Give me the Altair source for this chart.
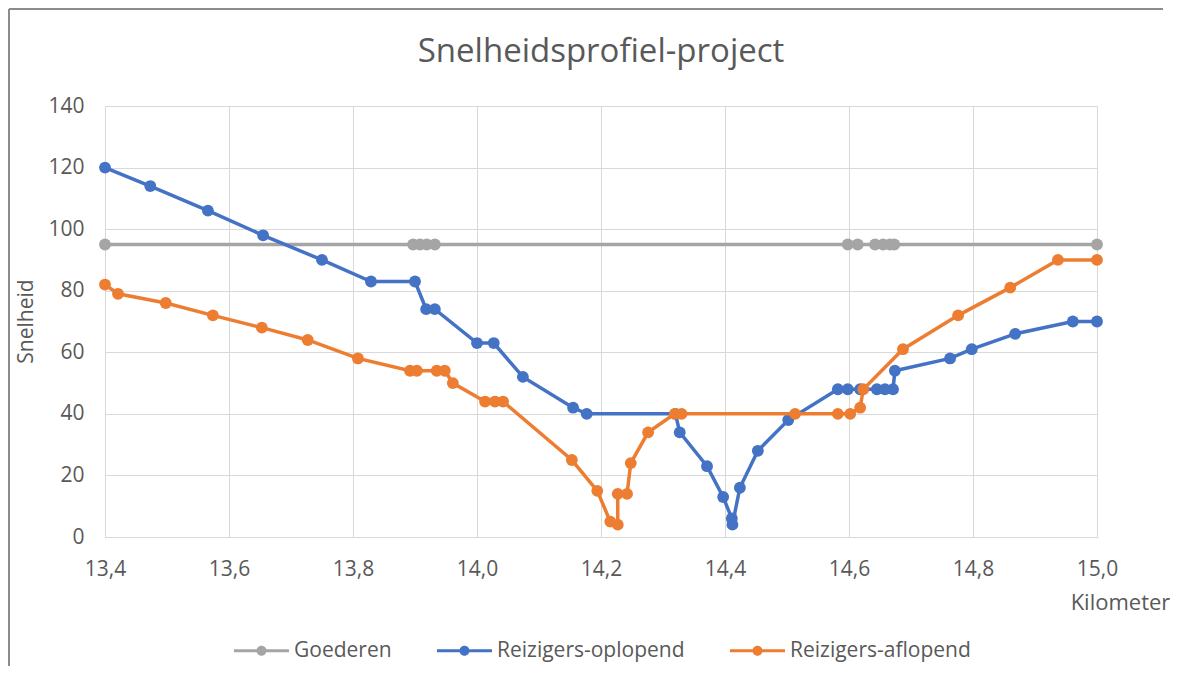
import altair as alt
import pandas as pd

# ---- data ----
series_names = ["Goederen", "Reizigers-oplopend", "Reizigers-aflopend"]
series_colors = ["#A5A5A5", "#4472C4", "#ED7D31"]

km_goederen = [13.400, 13.897, 13.908, 13.919, 13.932, 14.598, 14.614, 14.642,
               14.655, 14.666, 14.673, 15.000]
v_goederen = [95, 95, 95, 95, 95, 95, 95, 95, 95, 95, 95, 95]

km_oplopend = [13.400, 13.473, 13.566, 13.655, 13.750, 13.829, 13.900, 13.918,
               13.932, 14.000, 14.027, 14.074, 14.155, 14.177, 14.320, 14.327,
               14.371, 14.397, 14.411, 14.412, 14.424, 14.453, 14.502, 14.582,
               14.598, 14.618, 14.645, 14.658, 14.671, 14.674, 14.763, 14.798,
               14.868, 14.961, 15.000]
v_oplopend = [120, 114, 106, 98, 90, 83, 83, 74, 74, 63, 63, 52, 42, 40, 40, 34,
              23, 13, 6, 4, 16, 28, 38, 48, 48, 48, 48, 48, 48, 54, 58, 61, 66,
              70, 70]

km_aflopend = [13.400, 13.421, 13.498, 13.574, 13.653, 13.727, 13.808, 13.892,
               13.903, 13.935, 13.948, 13.961, 14.013, 14.029, 14.042, 14.153,
               14.194, 14.215, 14.227, 14.227, 14.242, 14.248, 14.276, 14.319,
               14.330, 14.513, 14.582, 14.602, 14.618, 14.623, 14.687, 14.776,
               14.860, 14.937, 15.000]
v_aflopend = [82, 79, 76, 72, 68, 64, 58, 54, 54, 54, 54, 50, 44, 44, 44, 25, 15,
              5, 4, 14, 14, 24, 34, 40, 40, 40, 40, 40, 42, 48, 61, 72, 81, 90, 90]

x_ticks = [13.4, 13.6, 13.8, 14.0, 14.2, 14.4, 14.6, 14.8, 15.0]
y_ticks = [0, 20, 40, 60, 80, 100, 120, 140]

# ---- build table ----
rows = []
for name, kms, vs in [
    (series_names[0], km_goederen, v_goederen),
    (series_names[1], km_oplopend, v_oplopend),
    (series_names[2], km_aflopend, v_aflopend),
]:
    for i, (k, v) in enumerate(zip(kms, vs)):
        rows.append({"serie": name, "km": k, "snelheid": v, "idx": i})
df = pd.DataFrame(rows)

FONT = "Open Sans"
TXT = "#595959"
GRID = "#D9D9D9"

legend_path = ("M-2.75,-0.15H2.75V0.15H-2.75Z "
               "M0.5,0A0.5,0.5,0,1,1,-0.5,0A0.5,0.5,0,1,1,0.5,0Z")

color = alt.Color(
    "serie:N",
    scale=alt.Scale(domain=series_names, range=series_colors),
    sort=series_names,
    legend=alt.Legend(
        title=None,
        orient="none",
        direction="horizontal",
        legendX=146,
        legendY=534,
        padding=0,
        symbolType=legend_path,
        symbolSize=400,
        symbolStrokeWidth=0,
        symbolOpacity=1,
        labelOffset=22,
        columnPadding=45,
        labelLimit=400,
        labelFont=FONT,
        labelFontSize=21,
        labelColor=TXT,
    ),
)

x = alt.X(
    "km:Q",
    scale=alt.Scale(domain=[13.4, 15.0], nice=False, zero=False),
    axis=alt.Axis(
        values=x_ticks,
        labelExpr="replace(format(datum.value, '.1f'), '.', ',')",
        title="Kilometer",
        titleFont=FONT,
        titleFontSize=22,
        titleFontWeight="normal",
        titleColor=TXT,
        titleAnchor="end",
        titleAlign="center",
        titleBaseline="middle",
        titleX=1015,
        titleY=65,
        labelFont=FONT,
        labelFontSize=21,
        labelColor=TXT,
        labelPadding=21,
        ticks=False,
        domain=True,
        domainColor=GRID,
        grid=True,
        gridColor=GRID,
        labelFlush=False,
    ),
)

y = alt.Y(
    "snelheid:Q",
    scale=alt.Scale(domain=[0, 140], nice=False),
    axis=alt.Axis(
        values=y_ticks,
        title="Snelheid",
        titleFont=FONT,
        titleFontSize=21,
        titleFontWeight="normal",
        titleColor=TXT,
        titleAngle=270,
        titleAlign="center",
        titleBaseline="middle",
        titleX=-79,
        titleY=215,
        labelFont=FONT,
        labelFontSize=21,
        labelColor=TXT,
        labelPadding=21,
        ticks=False,
        domain=False,
        grid=True,
        gridColor=GRID,
    ),
)

layers = []
# chart-area frame, left and top edges (decoration only)
one = pd.DataFrame({"a": [0]})
layers.append(
    alt.Chart(one).mark_rule(color="#8C8C8C", strokeWidth=2).encode(
        x=alt.value(-96), y=alt.value(-97), y2=alt.value(560)
    )
)
layers.append(
    alt.Chart(one).mark_rule(color="#8C8C8C", strokeWidth=2).encode(
        x=alt.value(-96), x2=alt.value(1058), y=alt.value(-97)
    )
)

for name, col in zip(series_names, series_colors):
    base = alt.Chart(df).transform_filter(alt.datum.serie == name)
    layers.append(
        base.mark_line(strokeWidth=3.5, color=col).encode(
            x=x, y=y, order=alt.Order("idx:Q")
        )
    )
    layers.append(
        base.mark_circle(size=140, opacity=1).encode(x=x, y=y, color=color)
    )

chart = alt.layer(*layers).properties(
    width=992,
    height=431,
    title=alt.Title(
        "Snelheidsprofiel-project",
        font=FONT,
        fontSize=33,
        fontWeight="normal",
        color=TXT,
        anchor="middle",
        baseline="alphabetic",
        offset=-87,
    ),
    autosize=alt.AutoSizeParams(type="none"),
    padding={"left": 97, "top": 98, "right": 73, "bottom": 130},
).configure_view(stroke=None).configure(background="white")

chart.save("out.html", embed_options={"renderer": "svg", "actions": False})
